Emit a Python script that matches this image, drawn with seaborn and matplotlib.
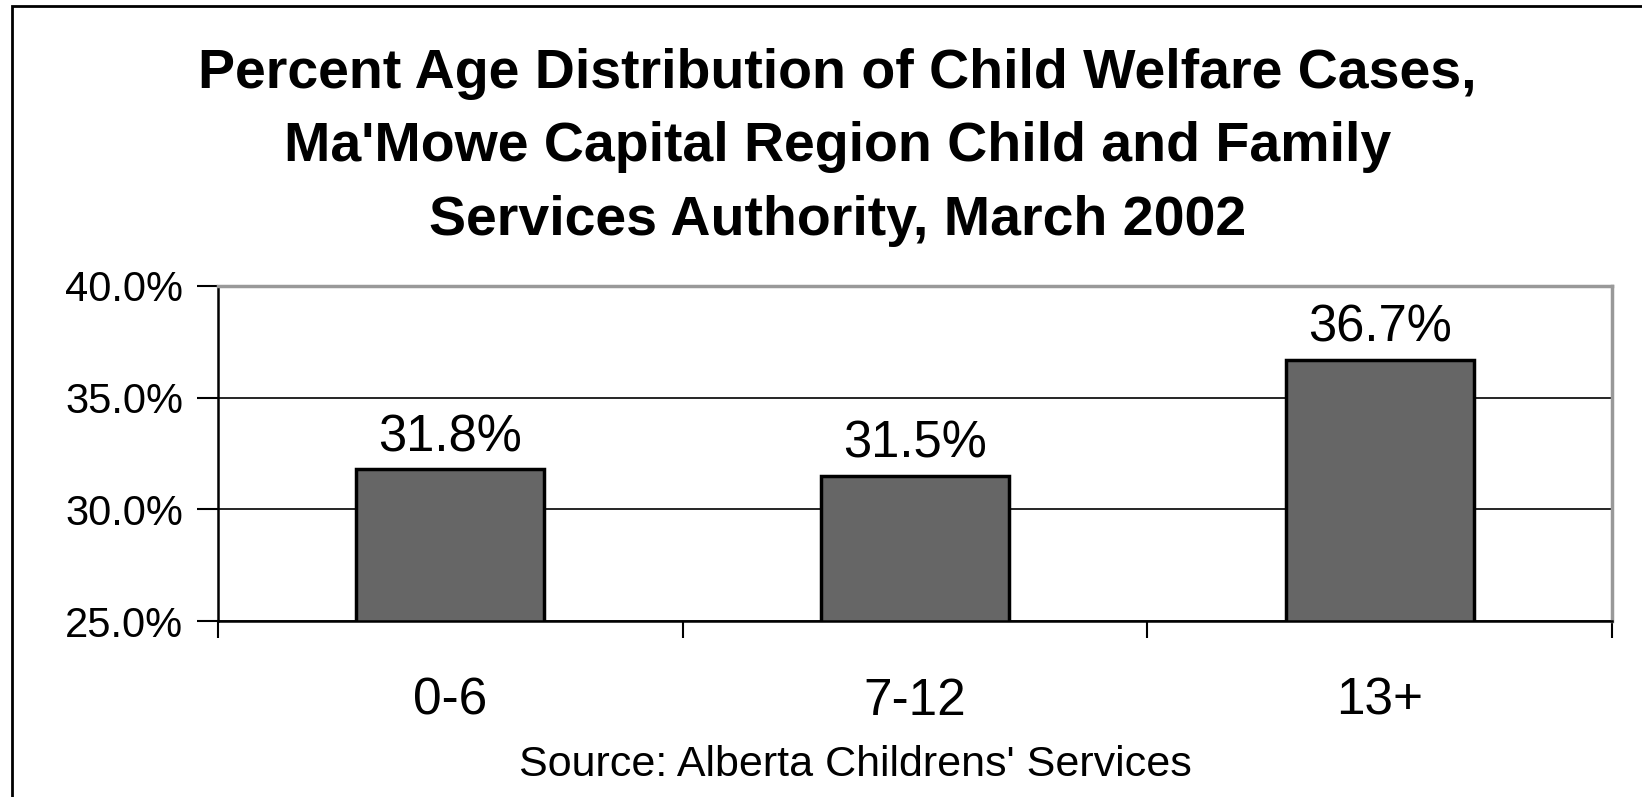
import matplotlib
matplotlib.use('Agg')
import matplotlib.pyplot as plt
import seaborn as sns
from matplotlib.patches import Rectangle
from matplotlib.ticker import FuncFormatter, FixedLocator

# data
age_groups = ['0-6', '7-12', '13+']
pct_cases = [31.8, 31.5, 36.7]
y_ticks = [25, 30, 35, 40]

sns.set_theme(style='white')
plt.rcParams['font.family'] = ['Liberation Sans', 'DejaVu Sans']
plt.rcParams['text.color'] = 'black'
plt.rcParams['xtick.color'] = 'black'
plt.rcParams['ytick.color'] = 'black'

fig = plt.figure(figsize=(16.42, 7.97), dpi=100)
ax = fig.add_axes([0.1328, 0.2208, 0.8489, 0.4204])

sns.barplot(x=age_groups, y=pct_cases, color='#666666', saturation=1,
            edgecolor='black', linewidth=2.5, width=0.405, ax=ax)

ax.set_ylim(25, 40)
ax.set_xlim(-0.5, 2.5)
ax.set_yticks(y_ticks)
ax.yaxis.set_major_formatter(FuncFormatter(lambda v, p: f'{v:.1f}%'))
ax.yaxis.grid(True, color='black', linewidth=1.2)
ax.set_axisbelow(True)

# category labels w/o tick marks, boundary ticks as minor
ax.tick_params(axis='x', which='major', length=0, pad=40, labelsize=37)
ax.xaxis.set_minor_locator(FixedLocator([-0.5, 0.5, 1.5, 2.5]))
ax.tick_params(axis='x', which='minor', bottom=True, length=12, width=1.5, color='black')
ax.tick_params(axis='y', left=True, length=15, width=1.5, color='black', pad=10, labelsize=30)

for s in ['left', 'bottom']:
    ax.spines[s].set_color('black')
    ax.spines[s].set_linewidth(1.8)
for s in ['top', 'right']:
    ax.spines[s].set_color('#999999')
    ax.spines[s].set_linewidth(2.5)

ax.set_xlabel('')
ax.set_ylabel('')

for i, v in enumerate(pct_cases):
    ax.annotate(f'{v:.1f}%', (i, v), xytext=(0, 5), textcoords='offset points',
                ha='center', va='bottom', fontsize=36.5)

fig.text(0.510, 0.815,
         "Percent Age Distribution of Child Welfare Cases,\n"
         "Ma'Mowe Capital Region Child and Family\n"
         "Services Authority, March 2002",
         ha='center', va='center', fontsize=40, fontweight='bold',
         linespacing=1.53)

fig.text(855 / 1642, 1 - 776 / 797, "Source: Alberta Childrens' Services",
         ha='center', va='baseline', fontsize=31)

# chart frame, only left and top edges visible
fig.patches.append(Rectangle((12 / 1642, -0.1), 1.2, 1.1 - 6 / 797,
                             transform=fig.transFigure, fill=False,
                             edgecolor='black', linewidth=2))

fig.savefig('out.png', dpi=100)
